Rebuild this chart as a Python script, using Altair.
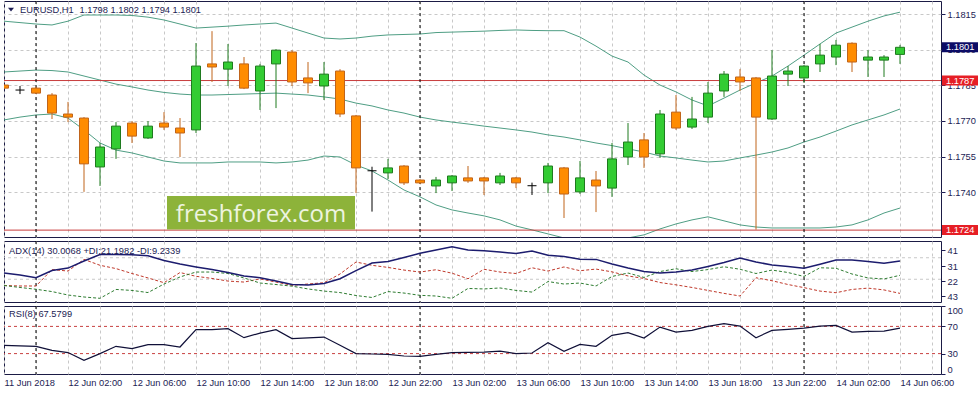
import altair as alt
import pandas as pd

# ---------------- data (hourly bars, index 0 = 11 Jun 22:00) ----------------
opens = [1.17851, 1.17830, 1.17838, 1.17809, 1.17729, 1.17712, 1.17506, 1.17582, 1.17691, 1.17628,
         1.17691, 1.17670, 1.17662, 1.17940, 1.17918, 1.17940, 1.17826, 1.17940, 1.17990, 1.17881,
         1.17847, 1.17910, 1.17721, 1.17490, 1.17481, 1.17510, 1.17451, 1.17426, 1.17439, 1.17460,
         1.17460, 1.17439, 1.17460, 1.17427, 1.17439, 1.17502, 1.17401, 1.17451, 1.17417, 1.17548,
         1.17620, 1.17561, 1.17737, 1.17674, 1.17716, 1.17826, 1.17885, 1.17881, 1.17708, 1.17897,
         1.17881, 1.17940, 1.17969, 1.18027, 1.17956, 1.17956, 1.17980]
highs = [1.17855, 1.17847, 1.17843, 1.17817, 1.17780, 1.17716, 1.17607, 1.17695, 1.17699, 1.17699,
         1.17737, 1.17712, 1.18028, 1.18078, 1.18024, 1.17969, 1.17940, 1.18002, 1.17998, 1.17948,
         1.17948, 1.17918, 1.17725, 1.17507, 1.17540, 1.17514, 1.17455, 1.17464, 1.17472, 1.17510,
         1.17464, 1.17481, 1.17464, 1.17440, 1.17523, 1.17506, 1.17531, 1.17489, 1.17607, 1.17691,
         1.17649, 1.17746, 1.17809, 1.17801, 1.17864, 1.17910, 1.17918, 1.17885, 1.17998, 1.17931,
         1.17935, 1.18024, 1.18041, 1.18031, 1.17998, 1.17977, 1.18020]
lows = [1.17834, 1.17813, 1.17813, 1.17708, 1.17695, 1.17401, 1.17426, 1.17540, 1.17607, 1.17624,
        1.17662, 1.17548, 1.17649, 1.17864, 1.17847, 1.17834, 1.17746, 1.17754, 1.17847, 1.17817,
        1.17788, 1.17716, 1.17396, 1.17318, 1.17455, 1.17430, 1.17434, 1.17396, 1.17405, 1.17439,
        1.17388, 1.17430, 1.17417, 1.17388, 1.17396, 1.17291, 1.17392, 1.17316, 1.17380, 1.17514,
        1.17502, 1.17544, 1.17662, 1.17666, 1.17691, 1.17801, 1.17826, 1.17242, 1.17704, 1.17847,
        1.17860, 1.17906, 1.17935, 1.17906, 1.17885, 1.17885, 1.17940]
closes = [1.17838, 1.17830, 1.17817, 1.17733, 1.17716, 1.17519, 1.17590, 1.17678, 1.17636, 1.17678,
          1.17674, 1.17649, 1.17931, 1.17927, 1.17948, 1.17838, 1.17931, 1.17998, 1.17864, 1.17860,
          1.17897, 1.17729, 1.17502, 1.17490, 1.17502, 1.17439, 1.17439, 1.17451, 1.17468, 1.17447,
          1.17447, 1.17468, 1.17439, 1.17427, 1.17510, 1.17392, 1.17460, 1.17426, 1.17540, 1.17611,
          1.17548, 1.17729, 1.17670, 1.17708, 1.17817, 1.17897, 1.17864, 1.17716, 1.17889, 1.17910,
          1.17931, 1.17977, 1.18019, 1.17948, 1.17969, 1.17969, 1.18010]

bb_upper = [1.18120, 1.18114, 1.18108, 1.18104, 1.18120, 1.18146, 1.18146, 1.18146, 1.18144, 1.18137,
            1.18125, 1.18108, 1.18091, 1.18095, 1.18099, 1.18104, 1.18108, 1.18112, 1.18091, 1.18070,
            1.18049, 1.18045, 1.18049, 1.18057, 1.18062, 1.18064, 1.18066, 1.18072, 1.18074, 1.18076,
            1.18078, 1.18081, 1.18083, 1.18081, 1.18080, 1.18080, 1.18053, 1.18015, 1.17973, 1.17948,
            1.17893, 1.17851, 1.17822, 1.17788, 1.17763, 1.17796, 1.17830, 1.17860, 1.17889, 1.17931,
            1.17977, 1.18024, 1.18070, 1.18095, 1.18120, 1.18142, 1.18158]
bb_middle = [1.17906, 1.17910, 1.17914, 1.17912, 1.17906, 1.17889, 1.17872, 1.17855, 1.17843, 1.17830,
             1.17820, 1.17813, 1.17809, 1.17809, 1.17811, 1.17813, 1.17815, 1.17817, 1.17813, 1.17809,
             1.17801, 1.17792, 1.17775, 1.17763, 1.17746, 1.17733, 1.17716, 1.17704, 1.17695, 1.17687,
             1.17678, 1.17670, 1.17662, 1.17653, 1.17641, 1.17632, 1.17620, 1.17607, 1.17596, 1.17582,
             1.17569, 1.17552, 1.17544, 1.17535, 1.17527, 1.17531, 1.17544, 1.17556, 1.17569, 1.17586,
             1.17611, 1.17632, 1.17657, 1.17683, 1.17704, 1.17725, 1.17750]
bb_lower = [1.17704, 1.17716, 1.17725, 1.17729, 1.17712, 1.17662, 1.17607, 1.17577, 1.17565, 1.17548,
            1.17531, 1.17523, 1.17523, 1.17523, 1.17527, 1.17527, 1.17527, 1.17523, 1.17527, 1.17535,
            1.17552, 1.17548, 1.17514, 1.17489, 1.17451, 1.17409, 1.17380, 1.17346, 1.17325, 1.17312,
            1.17300, 1.17283, 1.17257, 1.17241, 1.17224, 1.17207, 1.17199, 1.17194, 1.17199, 1.17207,
            1.17220, 1.17245, 1.17266, 1.17283, 1.17296, 1.17279, 1.17262, 1.17253, 1.17249, 1.17249,
            1.17249, 1.17249, 1.17253, 1.17262, 1.17283, 1.17312, 1.17333]

adx = [27.0, 25.8, 24.1, 28.5, 30.0, 34.3, 38.3, 38.3, 38.1, 37.5,
       34.6, 32.5, 30.7, 29.1, 27.3, 25.2, 24.1, 22.1, 20.0, 19.7,
       20.6, 23.5, 28.5, 33.1, 34.0, 36.4, 39.0, 41.0, 43.0, 41.0,
       40.5, 39.8, 38.9, 40.4, 37.8, 37.0, 35.4, 35.3, 32.5, 30.0,
       27.9, 27.0, 27.6, 28.8, 31.0, 33.4, 36.1, 33.7, 31.9, 31.0,
       29.9, 32.3, 34.9, 34.9, 34.0, 32.9, 34.3]
plus_di = [19.4, 18.2, 17.1, 15.7, 13.6, 12.4, 11.6, 17.0, 16.4, 15.1,
           20.3, 24.6, 27.6, 27.6, 26.7, 24.0, 20.9, 20.0, 19.0, 17.3,
           16.0, 15.1, 13.3, 12.1, 15.7, 14.8, 13.4, 13.0, 11.6, 17.6,
           17.3, 17.9, 16.4, 15.4, 21.8, 20.3, 20.9, 19.1, 24.9, 27.0,
           24.3, 27.9, 29.6, 27.9, 29.1, 30.8, 29.3, 26.7, 28.8, 27.3,
           24.9, 30.2, 29.9, 26.4, 24.0, 23.4, 25.6]
minus_di = [19.4, 19.1, 19.1, 29.1, 28.2, 35.3, 31.7, 29.7, 26.7, 24.0,
            21.1, 27.3, 25.0, 23.7, 22.1, 21.5, 23.4, 21.5, 19.5, 20.3,
            21.1, 26.4, 33.7, 31.7, 30.4, 28.8, 27.6, 29.0, 26.9, 23.5,
            29.3, 27.6, 26.7, 30.2, 28.2, 30.7, 28.4, 29.4, 27.7, 25.2,
            23.7, 21.2, 19.8, 18.2, 16.4, 14.6, 13.0, 24.1, 22.3, 20.0,
            18.1, 16.0, 15.0, 17.0, 17.8, 16.7, 14.6]
rsi = [42.2, 41.4, 40.7, 34.8, 31.5, 20.2, 30.0, 40.7, 37.3, 43.2,
       43.2, 39.7, 65.2, 65.2, 66.6, 53.4, 60.2, 65.2, 52.0, 53.2,
       54.3, 42.2, 30.0, 29.4, 29.0, 26.5, 26.0, 29.0, 31.5, 31.9,
       32.2, 33.7, 30.0, 30.9, 46.1, 33.4, 43.6, 40.7, 56.8, 60.8,
       52.9, 69.0, 61.6, 64.1, 70.0, 74.0, 70.4, 53.4, 64.1, 65.6,
       67.5, 70.4, 71.5, 61.6, 62.7, 63.1, 67.58]

tick_labels = ["11 Jun 2018", "12 Jun 02:00", "12 Jun 06:00", "12 Jun 10:00", "12 Jun 14:00",
               "12 Jun 18:00", "12 Jun 22:00", "13 Jun 02:00", "13 Jun 06:00", "13 Jun 10:00",
               "13 Jun 14:00", "13 Jun 18:00", "13 Jun 22:00", "14 Jun 02:00", "14 Jun 06:00"]
label_step = 4
grid_steps = list(range(0, 59, 2))
day_breaks = [2, 26, 50]
price_ticks = [1.1740, 1.1755, 1.1770, 1.1785, 1.1800, 1.1815]
last_price = [1.1801]
last_text = ["1.1801"]
level_prices = [1.1787, 1.1724]
level_texts = ["1.1787", "1.1724"]
adx_ticks = [41, 31, 22, 13]
adx_tick_text = ["41", "31", "22", "43"]
adx_grid = [36.3, 23.2]
rsi_ticks = [0, 30, 70, 100]
rsi_levels = [70, 30]

title_symbol = "EURUSD,H1"
title_ohlc = "1.1798 1.1802 1.1794 1.1801"
adx_title = "ADX(14) 30.0068 +DI:21.1982 -DI:9.2339"
rsi_title = "RSI(8) 67.5799"
watermark = "freshforex.com"

# ---------------- style ----------------
FONT = "Liberation Sans"
FS = 9.3
FRAME = "#1b1b45"
TXT = "#1c1c54"
GRID = "#c8c8c8"
BB = "#4f9e84"
LEVEL = "#c83c3c"
UP_FILL, UP_EDGE = "#33cc33", "#1f7a1f"
DN_FILL, DN_EDGE = "#ff8c00", "#c0641a"
W = 937
H_MAIN, H_ADX, H_RSI = 236, 61, 68
BOX_SHAPE = "M-1,-0.278L1,-0.278L1,0.278L-1,0.278Z"

n = len(opens)
idx = list(range(n))
candles = pd.DataFrame({"i": idx, "open": opens, "high": highs, "low": lows, "close": closes})
candles["dir"] = ["up" if c > o else ("down" if c < o else "doji") for o, c in zip(opens, closes)]

bands = pd.concat([
    pd.DataFrame({"i": idx, "value": bb_upper, "band": "upper"}),
    pd.DataFrame({"i": idx, "value": bb_middle, "band": "middle"}),
    pd.DataFrame({"i": idx, "value": bb_lower, "band": "lower"}),
])
ind = pd.DataFrame({"i": idx, "adx": adx, "pdi": plus_di, "mdi": minus_di, "rsi": rsi})
seps = pd.DataFrame({"i": day_breaks})
levels = pd.DataFrame({"price": level_prices, "label": level_texts})
lastp = pd.DataFrame({"price": last_price, "label": last_text})
one = pd.DataFrame({"a": [0]})

xscale = alt.Scale(domain=[0, 58.5625], nice=False, zero=False, padding=0)


def x_axis(labels=False):
    kw = dict(values=grid_steps, grid=True, gridColor=GRID, gridDash=[3, 3], gridWidth=1,
              domain=False, ticks=False, title=None)
    if labels:
        js = "[" + ",".join("'%s'" % t for t in tick_labels) + "]"
        kw.update(labels=True,
                  labelExpr="datum.value %% %d == 0 ? %s[datum.value / %d] : ''" % (label_step, js, label_step),
                  labelAlign="left", labelPadding=4, labelFont=FONT, labelFontSize=FS,
                  labelColor=TXT, labelOverlap=False, labelFlush=False, labelBound=False)
    else:
        kw.update(labels=False)
    return alt.Axis(**kw)


def X(ax):
    return alt.X("i:Q", scale=xscale, axis=ax)


# ---------------- main price panel ----------------
yscale = alt.Scale(domain=[1.17211, 1.18205], nice=False, zero=False, padding=0)
yaxis = alt.Axis(orient="right", values=price_ticks, format=".4f", tickSize=4, tickColor=TXT,
                 labelPadding=2, domain=False, grid=True, gridColor=GRID, gridDash=[3, 3],
                 labelFont=FONT, labelFontSize=FS, labelColor=TXT, title=None)
xa = x_axis(False)


def Y(f):
    return alt.Y(f, type="quantitative", scale=yscale, axis=yaxis)


band_layer = alt.Chart(bands).mark_line(color=BB, strokeWidth=1, clip=True).encode(
    x=X(xa), y=Y("value"), detail="band:N")
level_layer = alt.Chart(levels).mark_rule(color=LEVEL, strokeWidth=1).encode(y=Y("price"))
sep_main = alt.Chart(seps).mark_rule(color="black", strokeDash=[3, 3], strokeWidth=1).encode(x=X(xa))

dir_dom = ["up", "down", "doji"]
wick = alt.Chart(candles).mark_rule(strokeWidth=1, clip=True).encode(
    x=X(xa), y=Y("low"), y2="high",
    color=alt.Color("dir:N", scale=alt.Scale(domain=dir_dom, range=[UP_EDGE, DN_EDGE, "black"]), legend=None))
body = alt.Chart(candles).transform_filter("datum.dir != 'doji'").mark_bar(size=9, strokeWidth=1, clip=True).encode(
    x=X(xa), y=Y("open"), y2="close",
    fill=alt.Fill("dir:N", scale=alt.Scale(domain=["up", "down"], range=[UP_FILL, DN_FILL]), legend=None),
    stroke=alt.Stroke("dir:N", scale=alt.Scale(domain=["up", "down"], range=[UP_EDGE, DN_EDGE]), legend=None))
doji = alt.Chart(candles).transform_filter("datum.dir == 'doji'").mark_tick(
    orient="horizontal", size=9, thickness=1, color="black", opacity=1).encode(x=X(xa), y=Y("close"))

wm_rect = alt.Chart(one).mark_rect(color="#8db33a").encode(
    x=alt.value(163), x2=alt.value(351), y=alt.value(195), y2=alt.value(228.5))
wm_text = alt.Chart(pd.DataFrame({"t": [watermark]})).mark_text(
    font="Open Sans", fontSize=24, color="#eef4e0", align="center", baseline="alphabetic").encode(
    x=alt.value(257), y=alt.value(220.5), text="t:N")

tri = alt.Chart(one).mark_point(shape="M-1,-0.6L1,-0.6L0,0.6Z", filled=True, size=36, color=TXT,
                                opacity=1, strokeWidth=0).encode(x=alt.value(7), y=alt.value(8.6))
t1 = alt.Chart(pd.DataFrame({"t": [title_symbol]})).mark_text(
    font=FONT, fontSize=FS, color=TXT, align="left", baseline="middle").encode(
    x=alt.value(16), y=alt.value(8.6), text="t:N")
t2 = alt.Chart(pd.DataFrame({"t": [title_ohlc]})).mark_text(
    font=FONT, fontSize=FS, color=TXT, align="left", baseline="middle").encode(
    x=alt.value(75.5), y=alt.value(8.6), text="t:N")

last_box = alt.Chart(lastp).mark_point(shape=BOX_SHAPE, filled=True, size=1296, opacity=1,
                                        strokeWidth=0, color="#0c0c66").encode(
    x=alt.value(956), y=Y("price"))
level_box = alt.Chart(levels).mark_point(shape=BOX_SHAPE, filled=True, size=1296, opacity=1,
                                         strokeWidth=0, color="#e61e25").encode(
    x=alt.value(956), y=Y("price"))
last_txt = alt.Chart(lastp).mark_text(font=FONT, fontSize=FS, color="white", align="left",
                                      baseline="middle").encode(
    x=alt.value(942), y=Y("price"), text="label:N")
level_txt = alt.Chart(levels).mark_text(font=FONT, fontSize=FS, color="white", align="left",
                                        baseline="middle").encode(
    x=alt.value(942), y=Y("price"), text="label:N")

main = alt.layer(band_layer, level_layer, sep_main, wick, body, doji, wm_rect, wm_text,
                 tri, t1, t2, last_box, level_box, last_txt, level_txt).properties(width=W, height=H_MAIN)

# ---------------- ADX panel ----------------
adx_scale = alt.Scale(domain=[9.35, 46.5], nice=False, zero=False, padding=0)
expr = "''"
for v, s in zip(adx_ticks, adx_tick_text):
    expr = "datum.value == %s ? '%s' : (%s)" % (v, s, expr)
adx_axis = alt.Axis(orient="right", values=adx_ticks, labelExpr=expr, tickSize=4, tickColor=TXT,
                    labelPadding=2, domain=False, grid=False, labelFont=FONT, labelFontSize=FS,
                    labelColor=TXT, title=None)


def YA(f):
    return alt.Y(f, type="quantitative", scale=adx_scale, axis=adx_axis)


adx_grid_layer = alt.Chart(pd.DataFrame({"v": adx_grid})).mark_rule(
    color=GRID, strokeDash=[3, 3], strokeWidth=1).encode(y=YA("v"))
sep_adx = alt.Chart(seps).mark_rule(color="black", strokeDash=[3, 3], strokeWidth=1).encode(x=X(xa))
mdi_line = alt.Chart(ind).mark_line(color="#c0392b", strokeDash=[3, 2], strokeWidth=1).encode(x=X(xa), y=YA("mdi"))
pdi_line = alt.Chart(ind).mark_line(color="#2f7d32", strokeDash=[3, 2], strokeWidth=1).encode(x=X(xa), y=YA("pdi"))
adx_line = alt.Chart(ind).mark_line(color="#1c1c6e", strokeWidth=1.5).encode(x=X(xa), y=YA("adx"))
adx_lbl = alt.Chart(pd.DataFrame({"t": [adx_title]})).mark_text(
    font=FONT, fontSize=FS, color=TXT, align="left", baseline="middle").encode(
    x=alt.value(5), y=alt.value(10), text="t:N")
adx_panel = alt.layer(adx_grid_layer, sep_adx, mdi_line, pdi_line, adx_line, adx_lbl).properties(
    width=W, height=H_ADX)

# ---------------- RSI panel ----------------
rsi_scale = alt.Scale(domain=[0, 100], nice=False, zero=False, padding=0)
rsi_axis = alt.Axis(orient="right", values=rsi_ticks, tickSize=4, tickColor=TXT, labelPadding=2,
                    domain=False, grid=False, labelFont=FONT, labelFontSize=FS, labelColor=TXT,
                    labelFlush=True, title=None)
xb = x_axis(True)


def YR(f):
    return alt.Y(f, type="quantitative", scale=rsi_scale, axis=rsi_axis)


rsi_lvl = alt.Chart(pd.DataFrame({"v": rsi_levels})).mark_rule(
    color="#c84040", strokeDash=[3, 3], strokeWidth=1).encode(y=YR("v"))
sep_rsi = alt.Chart(seps).mark_rule(color="black", strokeDash=[3, 3], strokeWidth=1).encode(x=X(xb))
rsi_line = alt.Chart(ind).mark_line(color="#101038", strokeWidth=1.2).encode(x=X(xb), y=YR("rsi"))
rsi_lbl = alt.Chart(pd.DataFrame({"t": [rsi_title]})).mark_text(
    font=FONT, fontSize=FS, color=TXT, align="left", baseline="middle").encode(
    x=alt.value(5), y=alt.value(8), text="t:N")
rsi_panel = alt.layer(rsi_lvl, sep_rsi, rsi_line, rsi_lbl).properties(width=W, height=H_RSI)

chart = alt.vconcat(main, adx_panel, rsi_panel, spacing=4, bounds="flush").properties(
    padding={"left": 0, "top": 0, "right": 0, "bottom": 0}, background="white"
).configure_view(stroke=FRAME, strokeWidth=1)

chart.save("out.html", embed_options={"renderer": "svg", "actions": False})
